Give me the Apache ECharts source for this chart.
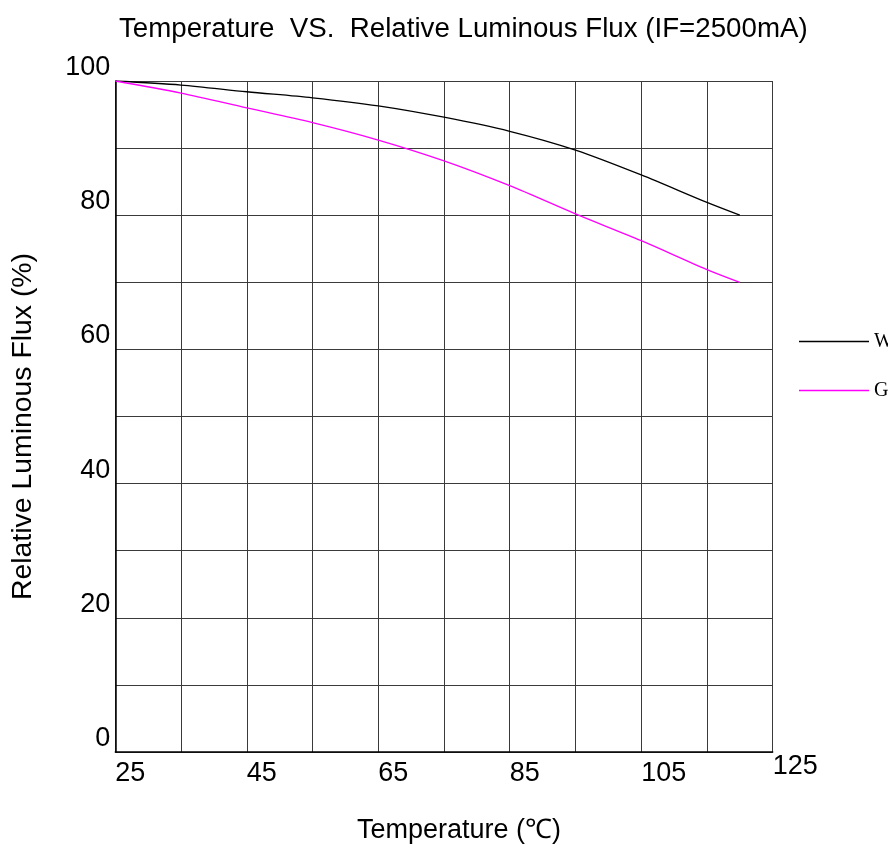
<!DOCTYPE html>
<html><head><meta charset="utf-8">
<script src="https://cdn.jsdelivr.net/npm/echarts@6/dist/echarts.min.js"></script>
<style>html,body{margin:0;padding:0;background:#fff}#c{width:888px;height:849px}</style>
</head><body><div id="c"></div>
<script>
const temperatures = [25, 35, 45, 55, 65, 75, 85, 95, 105, 115, 120];
const fluxW = [100, 99.4, 98.4, 97.5, 96.3, 94.6, 92.5, 89.7, 86.0, 81.9, 80.0];
const fluxG = [100, 98.2, 96.0, 93.8, 91.2, 88.1, 84.4, 80.2, 76.2, 71.9, 70.0];
const xTickLabels = [25, 45, 65, 85, 105, 125];
const yTickLabels = [0, 20, 40, 60, 80, 100];
const seriesNames = ['W', 'G'];
const T0 = 25;

const font = 'Liberation Sans, Arial, sans-serif';
const chart = echarts.init(document.getElementById('c'), null, {renderer: 'canvas'});
const pts = arr => temperatures.map((t, i) => [t - T0, arr[i]]);
const gridCol = '#3a3a3a';

chart.setOption({
  backgroundColor: '#fff',
  animation: false,
  title: {
    text: 'Temperature  VS.  Relative Luminous Flux (IF=2500mA)',
    left: 114, top: 10,
    textStyle: {fontFamily: font, fontSize: 27.7, fontWeight: 'normal', color: '#000'}
  },
  legend: {
    orient: 'vertical', left: 794, top: 325,
    itemWidth: 70, itemHeight: 1.5, itemGap: 26, icon: 'rect',
    data: seriesNames,
    textStyle: {fontFamily: 'Liberation Serif, serif', fontSize: 20, color: '#000', lineHeight: 23}
  },
  grid: {left: 115.3, top: 81, width: 657.4, height: 672.8, containLabel: false},
  xAxis: [{
    type: 'value', min: 0, max: 100, interval: 10,
    name: 'Temperature (℃)', nameLocation: 'middle', nameGap: 65,
    nameTextStyle: {fontFamily: font, fontSize: 27, color: '#000', padding: [0, 0, 0, 30]},
    axisLine: {show: true, lineStyle: {color: '#000', width: 1.5}},
    axisTick: {show: false},
    splitLine: {show: true, lineStyle: {color: gridCol, width: 1}},
    axisLabel: {
      fontFamily: font, fontSize: 27, color: '#000', align: 'left', margin: 8,
      showMaxLabel: true, showMinLabel: true,
      formatter: v => { const t = Math.round(v + T0); return (xTickLabels.includes(t) && t !== 125) ? String(t) : ''; }
    }
  }, {
    type: 'value', min: 0, max: 100, interval: 10, position: 'bottom',
    axisLine: {show: false}, axisTick: {show: false}, splitLine: {show: false},
    axisLabel: {
      fontFamily: font, fontSize: 27, color: '#000', align: 'left', margin: 1,
      showMaxLabel: true,
      formatter: v => { const t = Math.round(v + T0); return t === 125 ? String(t) : ''; }
    }
  }],
  yAxis: {
    type: 'value', min: 0, max: 100, interval: 10,
    name: 'Relative Luminous Flux (%)', nameLocation: 'middle', nameGap: 78, nameRotate: 90,
    nameTextStyle: {fontFamily: font, fontSize: 28.4, color: '#000', padding: [0, 20, 0, 0]},
    axisLine: {show: true, lineStyle: {color: '#000', width: 1.5}},
    axisTick: {show: false},
    splitLine: {show: true, lineStyle: {color: gridCol, width: 1}},
    axisLabel: {
      fontFamily: font, fontSize: 27, color: '#000', margin: 5, verticalAlign: 'bottom',
      showMaxLabel: true,
      formatter: v => yTickLabels.includes(Math.round(v)) ? String(v) : ''
    }
  },
  series: [
    {name: seriesNames[0], type: 'line', data: pts(fluxW), smooth: 0.3, symbol: 'none',
     color: '#000', lineStyle: {color: '#000', width: 1.3}, xAxisIndex: 0},
    {name: seriesNames[1], type: 'line', data: pts(fluxG), smooth: 0.3, symbol: 'none',
     color: '#ff00ff', lineStyle: {color: '#ff00ff', width: 1.3}, xAxisIndex: 0}
  ]
});
</script></body></html>
